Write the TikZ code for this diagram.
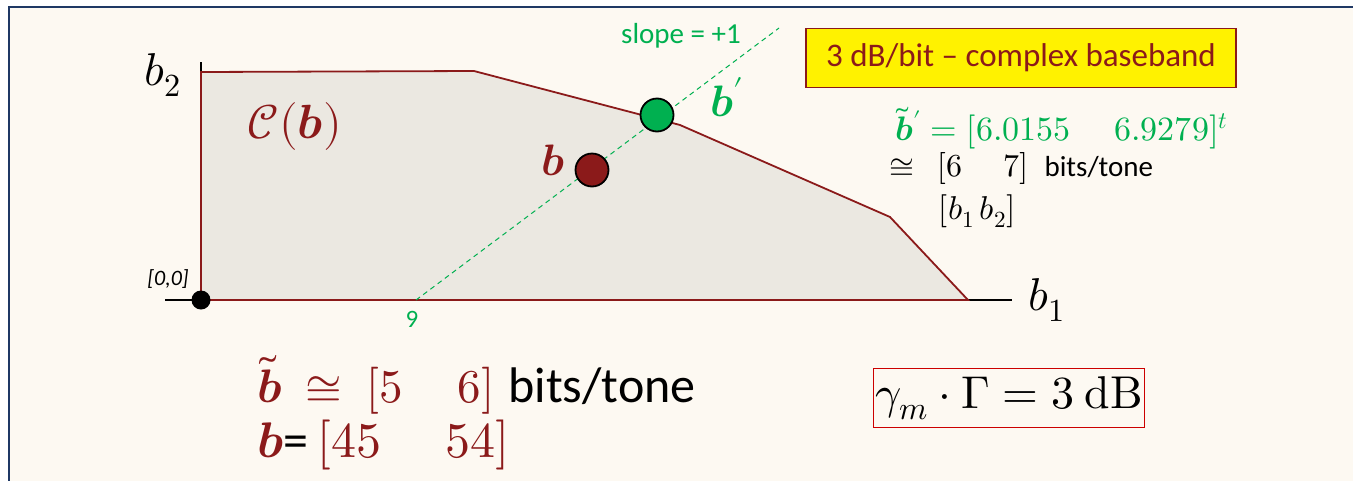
\documentclass[tikz,border=0pt]{standalone}
\usepackage{amsmath}
\usepackage{fontspec}
\usepackage{unicode-math}
\setmainfont{Carlito}
\setmathfont{Latin Modern Math}
\usetikzlibrary{positioning,calc}

\definecolor{cream}{HTML}{FDF9F2}
\definecolor{navy}{HTML}{1F3864}
\definecolor{regionred}{HTML}{8B1A1A}
\definecolor{regionfill}{HTML}{EBE8E1}
\definecolor{slopegreen}{HTML}{00B050}
\definecolor{gammared}{HTML}{CC0000}

\begin{document}
\begin{tikzpicture}[x=1pt, y=-1pt,
    frame/.style={draw=navy, line width=2pt, fill=cream},
    region/.style={draw=regionred, line width=1.8pt, fill=regionfill, line join=miter},
    axis/.style={draw=black, line width=1.8pt},
    slopeline/.style={draw=slopegreen, dashed, dash pattern=on 5pt off 4pt, line width=1pt},
    dot/.style={circle, draw=black, line width=1.8pt, minimum size=33pt, inner sep=0pt},
    lbl/.style={inner sep=0pt},
    mbox/.style={draw, inner sep=5pt}
]
  \clip (0,0) rectangle (1353,480);
  \fill[white] (0,0) rectangle (1353,480);
  \draw[frame] (9,7) rectangle (1380,500);

  % Region C(b)
  \coordinate (o)  at (201,300);
  \coordinate (p1) at (201,72);
  \coordinate (p2) at (474,71);
  \coordinate (p3) at (680,125);
  \coordinate (p4) at (890,217);
  \coordinate (p5) at (968,300);

  \draw[axis] (165,300) -- (1012,300);
  \draw[axis] (201,62) -- (o);
  \draw[region] (o) -- (p1) -- (p2) -- (p3) -- (p4) -- (p5) -- cycle;
  \fill[black] (o) circle (9.5pt);

  % Axis labels
  \node[lbl, font=\fontsize{46}{50}\selectfont] (ytitle) at (163,75) {$b_2$};
  \node[lbl, font=\fontsize{46}{50}\selectfont] (xtitle) at (1047,300) {$b_1$};
  \node[lbl, font=\itshape\fontsize{22}{24}\selectfont] (origin) at (168,279) {[0,0]};
  \node[lbl, text=regionred, font=\fontsize{48}{52}\selectfont] (cname) at (295,126) {$\mathcal{C}(\symbfit{b})$};

  % Slope +1 line
  \coordinate (s0) at (416,300);
  \coordinate (s1) at (779,28);
  \draw[slopeline] (s0) -- (s1);
  \node[lbl, text=slopegreen, font=\fontsize{25}{27}\selectfont] (nine) at (412,319) {9};
  \node[lbl, text=slopegreen, font=\fontsize{29}{31}\selectfont] (slopetxt) at (681,36) {slope = +1};

  % Points b and b'
  \node[dot, fill=regionred] (bdot) at (592,170) {};
  \node[dot, fill=slopegreen] (bpdot) at (657,115) {};
  \node[lbl, text=regionred, font=\fontsize{44}{48}\selectfont] (blbl) at (553,160) {$\symbfit{b}$};
  \node[lbl, text=slopegreen, font=\fontsize{44}{48}\selectfont] (bplbl) at (727,97) {$\symbfit{b}'$};

  % Title box
  \node[mbox, draw=regionred, line width=1.2pt, fill=yellow, text=regionred,
        minimum width=430pt, minimum height=59pt, font=\fontsize{33}{36}\selectfont] (title) at (1021,58)
        {3 dB/bit -- complex baseband};

  % Result for b'
  \node[lbl, anchor=west, text=slopegreen, font=\fontsize{34}{36}\selectfont] (bpval) at (895,128)
        {$\widetilde{\symbfit{b}}{}' = [6.0155\quad\; 6.9279]^t$};
  \node[lbl, anchor=west, font=\fontsize{32}{34}\selectfont] (bpround) at (889,168)
        {$\cong\;\, [6\quad\; 7]$\; \fontsize{29}{31}\selectfont bits/tone};
  \node[lbl, font=\fontsize{33}{36}\selectfont] (order) at (977,211) {$[b_1\, b_2]$};

  % Result for b
  \node[lbl, anchor=west, font=\fontsize{47}{52}\selectfont] (bround) at (257,385)
        {\textcolor{regionred}{$\widetilde{\symbfit{b}}\ \cong\ [5\quad\, 6]$}\hspace{14pt}\fontsize{50}{54}\selectfont bits/tone};
  \node[lbl, anchor=west, font=\fontsize{50}{54}\selectfont] (bval) at (257,445)
        {$\textcolor{regionred}{\symbfit{b}}$=\,\textcolor{regionred}{$[45\quad\; 54]$}};

  % Gap box
  \node[mbox, draw=gammared, line width=1.2pt, inner sep=2pt, minimum width=269pt, minimum height=59pt,
        font=\fontsize{46}{50}\selectfont] (gap) at (1009,398) {$\gamma_m\cdot\Gamma = 3\ \symrm{dB}$};
\end{tikzpicture}
\end{document}
